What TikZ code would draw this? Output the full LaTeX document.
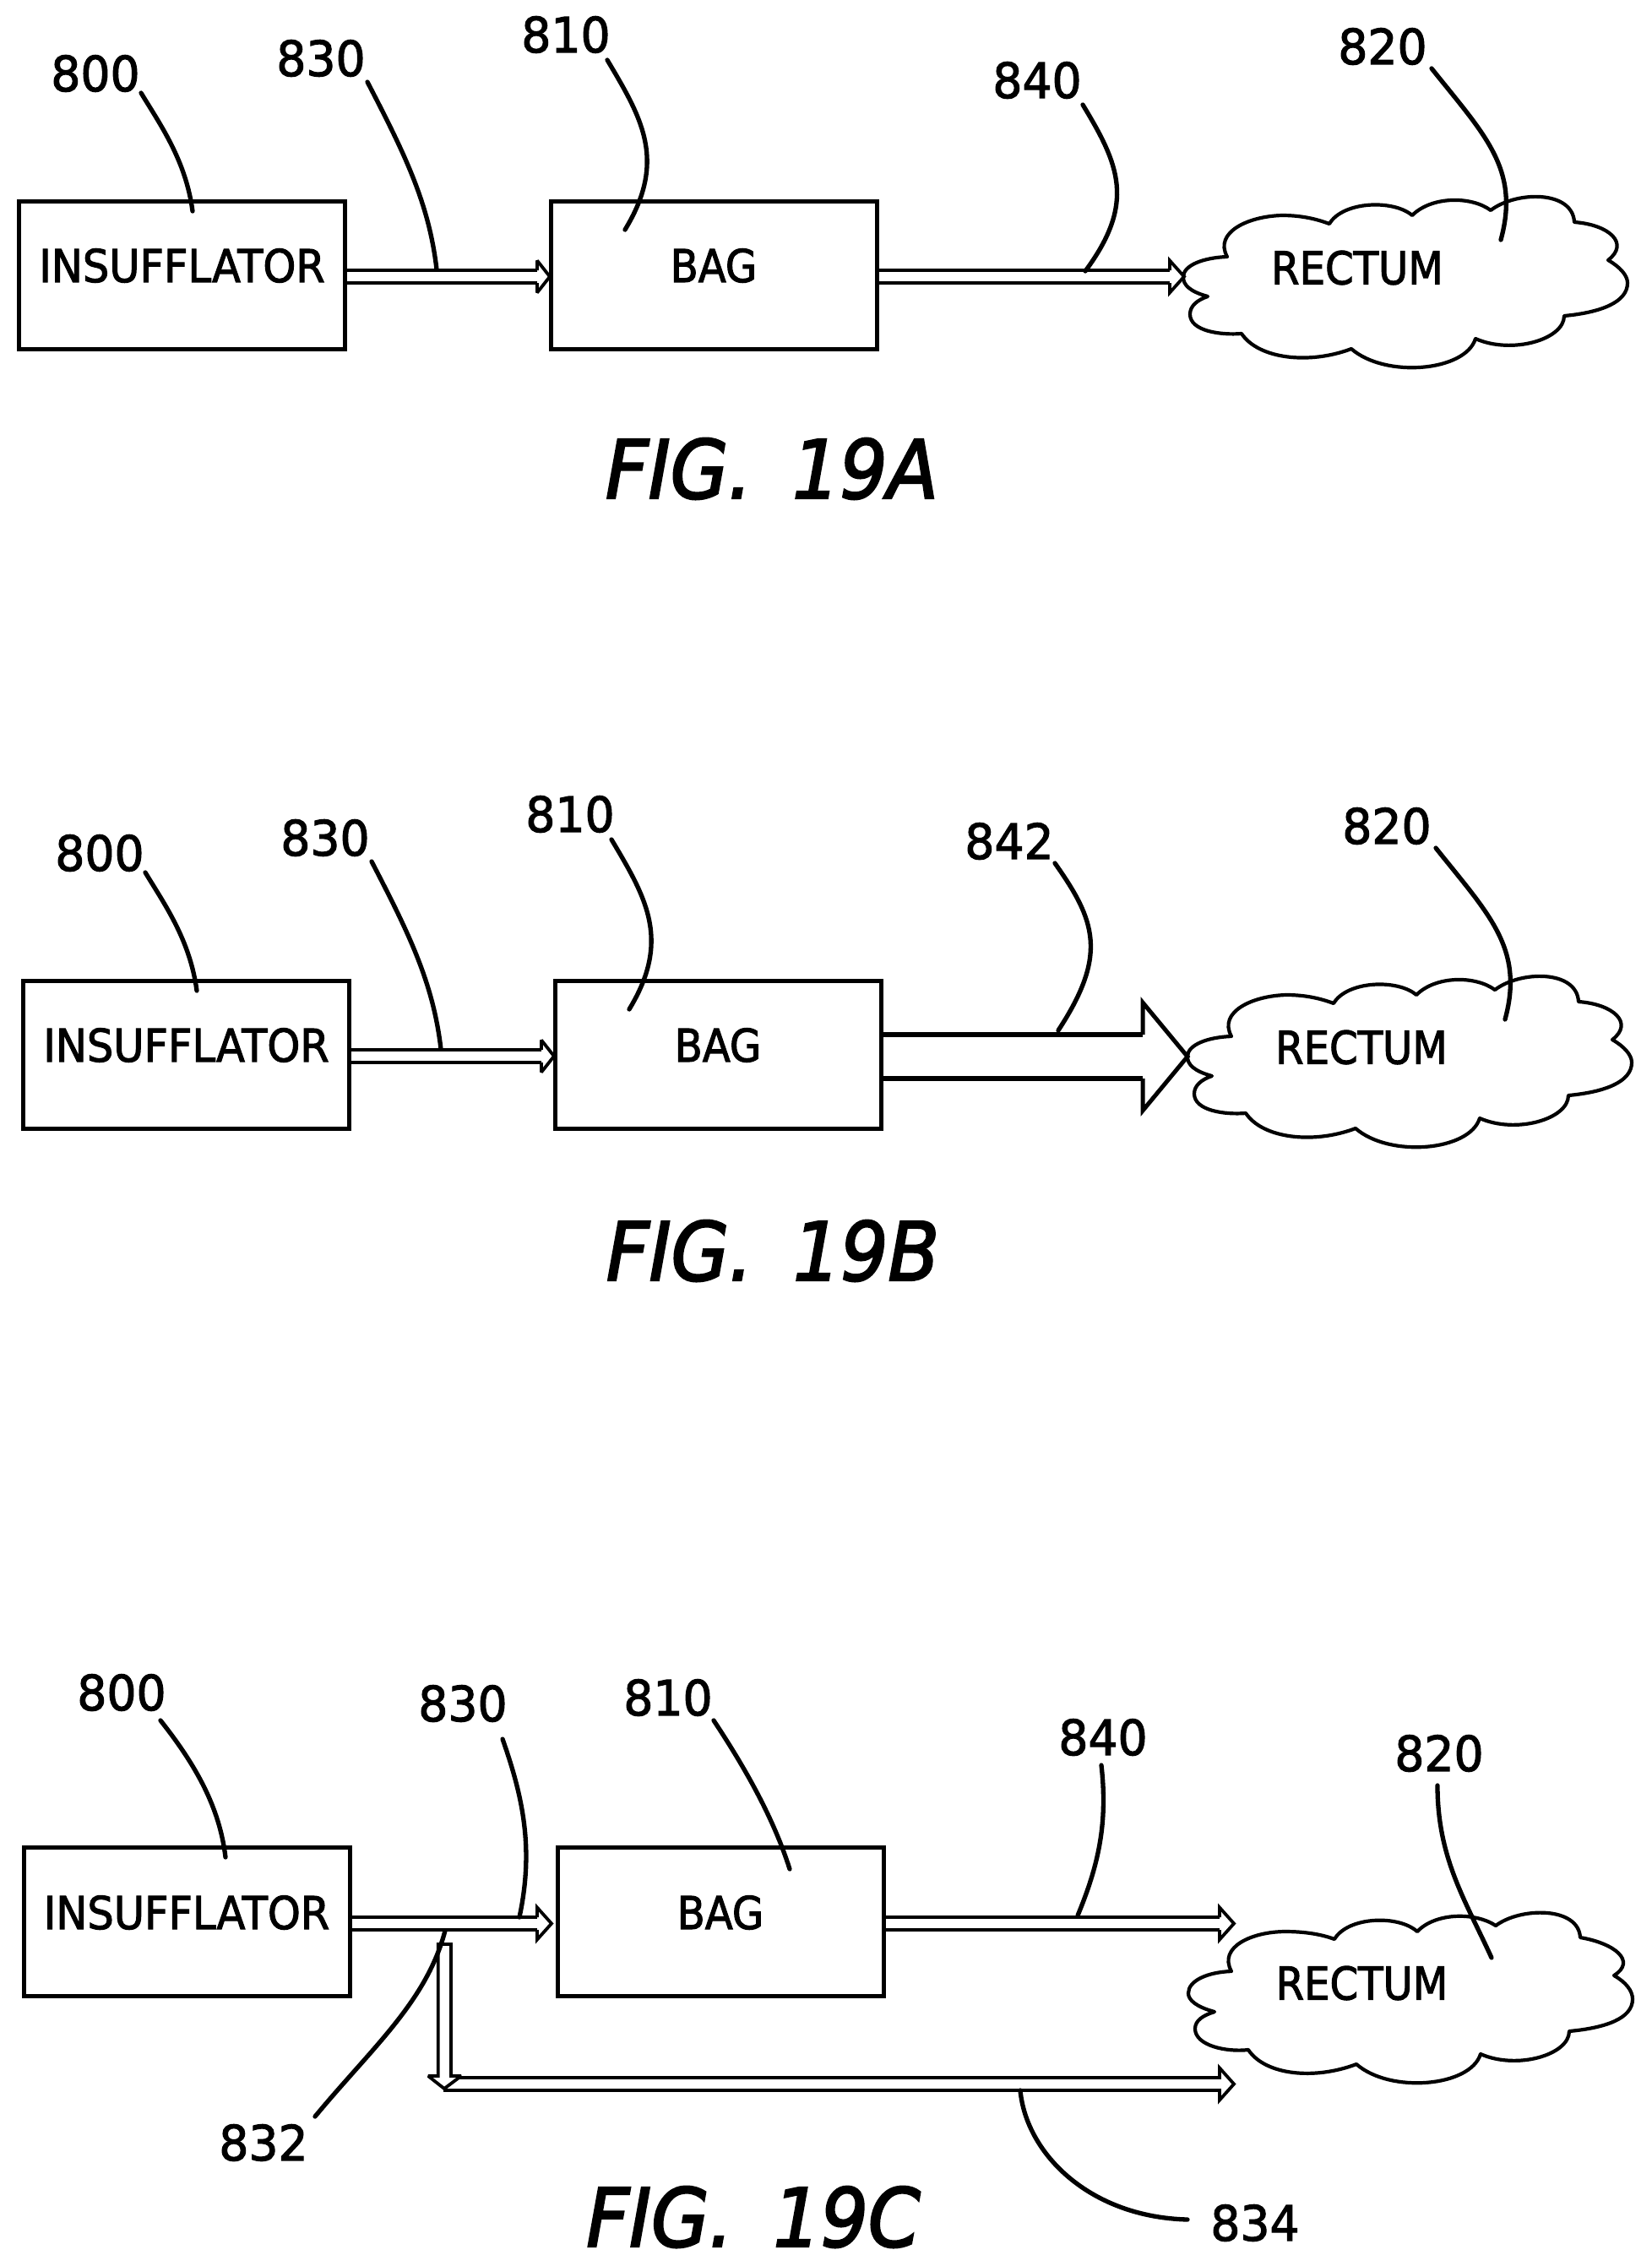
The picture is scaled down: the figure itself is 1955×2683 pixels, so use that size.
\documentclass[tikz,border=0pt]{standalone}
\usepackage{fontspec}
\setmainfont{DejaVu Sans}[FakeStretch=0.9,FakeBold=2]
\newfontfamily\insfont{DejaVu Sans}[FakeStretch=0.925,FakeBold=2]
\newfontfamily\numfont{DejaVu Sans}[FakeStretch=0.96,FakeBold=2]
\newfontfamily\figfont{DejaVu Sans Oblique}[FakeStretch=0.92,FakeBold=2.5]
\usetikzlibrary{calc}
\tikzset{
  boxnode/.style={draw=black,line width=5pt,minimum width=386pt,minimum height=175.5pt,inner sep=0pt,outer sep=0pt},
  textnode/.style={inner sep=0pt,outer sep=0pt,font=\fontsize{53.5pt}{56pt}\selectfont,text=black},
  instext/.style={inner sep=0pt,outer sep=0pt,font=\insfont\fontsize{53.5pt}{56pt}\selectfont,text=black},
  numlabel/.style={inner sep=0pt,outer sep=0pt,font=\numfont\fontsize{57.5pt}{60pt}\selectfont,text=black},
  figlabel/.style={inner sep=0pt,outer sep=0pt,font=\figfont\fontsize{96pt}{100pt}\selectfont,text=black},
  leader/.style={draw=black,line width=5.3pt,line cap=round},
  flow/.style={draw=black,line width=3.8pt,line join=miter,miter limit=3},
  bigflow/.style={draw=black,line width=6.5pt,line join=miter},
  cloudline/.style={draw=black,line width=4.2pt,line join=round},
}
% hollow arrow: #1 start, #2 tip, #3 half gap, #4 head length, #5 head half height, #6 style
\newcommand\hollowarrow[6]{%
  \draw[#6] ($(#1)+(0,-#3)$) -- ($(#2)+(-#4,-#3)$);
  \draw[#6] ($(#1)+(0,#3)$) -- ($(#2)+(-#4,#3)$);
  \draw[#6] ($(#2)+(-#4,-#3)$) -- ($(#2)+(-#4,-#5)$) -- (#2) -- ($(#2)+(-#4,#5)$) -- ($(#2)+(-#4,#3)$);
}
\newcommand\cloudAB{%
  (1453,304) .. controls (1437,275) and (1478,256) .. (1518,255)
  .. controls (1540,255) and (1558,259) .. (1574,265)
  .. controls (1590,238) and (1650,236) .. (1672,255)
  .. controls (1695,232) and (1742,232) .. (1765,249)
  .. controls (1795,226) and (1862,225) .. (1864,263)
  .. controls (1905,266) and (1930,288) .. (1904,308)
  .. controls (1918,316) and (1927,326) .. (1927,335)
  .. controls (1927,358) and (1895,370) .. (1852,374)
  .. controls (1852,402) and (1790,420) .. (1747,401)
  .. controls (1735,440) and (1640,448) .. (1600,413)
  .. controls (1550,432) and (1490,425) .. (1470,395)
  .. controls (1445,397) and (1409,392) .. (1409,372)
  .. controls (1409,362) and (1418,355) .. (1430,351)
  .. controls (1408,345) and (1401,337) .. (1401,328)
  .. controls (1401,314) and (1425,305) .. (1453,304) -- cycle}
\begin{document}
\begin{tikzpicture}[x=1pt,y=-1pt]
\useasboundingbox (0,0) rectangle (1955,2683);
\fill[white] (0,0) rectangle (1955,2683);

% ---------- FIG 19A
\node[boxnode] (insA) at (215.5,326) {};
\node[instext] (insAt) at (215.5,314.5) {INSUFFLATOR};
\node[boxnode] (bagA) at (845,326) {};
\node[textnode] (bagAt) at (845,314.5) {BAG};
\draw[cloudline] \cloudAB;
\node[textnode] (recA) at (1607,317) {RECTUM};
\node[numlabel] (n800A) at (113,87) {800};
\node[numlabel] (n830A) at (380,69) {830};
\node[numlabel] (n810A) at (670,41) {810};
\node[numlabel] (n840A) at (1228,95) {840};
\node[numlabel] (n820A) at (1637,55) {820};
\coordinate (a1s) at (408.5,327.5); \coordinate (a1e) at (651,327.5);
\coordinate (a2s) at (1038,327.5); \coordinate (a2e) at (1402,327.5);
\hollowarrow{a1s}{a1e}{7.5}{15}{19}{flow}
\hollowarrow{a2s}{a2e}{7.5}{17}{19}{flow}
\coordinate (l1s) at (167,110); \coordinate (l1e) at (228,250);
\coordinate (l2s) at (435,97); \coordinate (l2e) at (517,319);
\coordinate (l3s) at (719,71); \coordinate (l3e) at (740,272);
\coordinate (l4s) at (1282,124); \coordinate (l4e) at (1285,321);
\coordinate (l5s) at (1695,81); \coordinate (l5e) at (1777,284);
\draw[leader] (l1s) .. controls (190,148) and (220,190) .. (l1e);
\draw[leader] (l2s) .. controls (478,180) and (508,240) .. (l2e);
\draw[leader] (l3s) .. controls (760,140) and (790,190) .. (l3e);
\draw[leader] (l4s) .. controls (1325,195) and (1345,240) .. (l4e);
\draw[leader] (l5s) .. controls (1758,160) and (1800,200) .. (l5e);
\node[figlabel] (figA) at (914,555) {FIG.\hspace{0.5em}19A};

% ---------- FIG 19B
\begin{scope}[shift={(5,923)}]
\node[boxnode] (insB) at (215.5,326) {};
\node[instext] (insBt) at (215.5,314.5) {INSUFFLATOR};
\node[boxnode] (bagB) at (845,326) {};
\node[textnode] (bagBt) at (845,314.5) {BAG};
\draw[cloudline] \cloudAB;
\node[textnode] (recB) at (1607,317) {RECTUM};
\node[numlabel] (n800B) at (113,87) {800};
\node[numlabel] (n830B) at (380,69) {830};
\node[numlabel] (n810B) at (670,41) {810};
\node[numlabel] (n820B) at (1637,55) {820};
\coordinate (b1s) at (408.5,327.5); \coordinate (b1e) at (651,327.5);
\hollowarrow{b1s}{b1e}{7.5}{15}{19}{flow}
\coordinate (m1s) at (167,110); \coordinate (m1e) at (228,250);
\coordinate (m2s) at (435,97); \coordinate (m2e) at (517,319);
\coordinate (m3s) at (719,71); \coordinate (m3e) at (740,272);
\coordinate (m5s) at (1695,81); \coordinate (m5e) at (1777,284);
\draw[leader] (m1s) .. controls (190,148) and (220,190) .. (m1e);
\draw[leader] (m2s) .. controls (478,180) and (508,240) .. (m2e);
\draw[leader] (m3s) .. controls (760,140) and (790,190) .. (m3e);
\draw[leader] (m5s) .. controls (1758,160) and (1800,200) .. (m5e);
\end{scope}
\node[numlabel] (n842B) at (1195,996) {842};
\coordinate (b2s) at (1043,1251); \coordinate (b2e) at (1406,1251);
\draw[bigflow] ($(b2s)+(0,-26)$) -- ($(b2e)+(-53,-26)$);
\draw[bigflow] ($(b2s)+(0,26)$) -- ($(b2e)+(-53,26)$);
\draw[draw=black,line width=5pt,line join=miter] ($(b2e)+(-53,-26)$) -- ($(b2e)+(-53,-64)$) -- (b2e) -- ($(b2e)+(-53,64)$) -- ($(b2e)+(-53,26)$);
\coordinate (m4s) at (1249,1022); \coordinate (m4e) at (1253,1220);
\draw[leader] (m4s) .. controls (1297,1090) and (1312,1130) .. (m4e);
\node[figlabel] (figB) at (915,1481) {FIG.\hspace{0.5em}19B};

% ---------- FIG 19C
\node[boxnode,minimum height=176pt] (insC) at (221,2275.5) {};
\node[instext] (insCt) at (221,2264.5) {INSUFFLATOR};
\node[boxnode,minimum height=176pt] (bagC) at (853,2275.5) {};
\node[textnode] (bagCt) at (853,2264.5) {BAG};
\draw[cloudline]
  (1458,2334) .. controls (1442,2305) and (1483,2287) .. (1522,2287)
  .. controls (1544,2287) and (1564,2290) .. (1580,2296)
  .. controls (1596,2269) and (1656,2267) .. (1678,2287)
  .. controls (1700,2264) and (1747,2264) .. (1771,2280)
  .. controls (1800,2258) and (1869,2257) .. (1871,2294)
  .. controls (1912,2301) and (1938,2322) .. (1911,2339)
  .. controls (1925,2347) and (1933,2357) .. (1933,2367)
  .. controls (1933,2390) and (1901,2401) .. (1858,2405)
  .. controls (1858,2433) and (1796,2451) .. (1753,2432)
  .. controls (1741,2471) and (1646,2479) .. (1606,2444)
  .. controls (1556,2463) and (1498,2457) .. (1478,2427)
  .. controls (1452,2430) and (1415,2422) .. (1415,2402)
  .. controls (1415,2392) and (1425,2386) .. (1438,2382)
  .. controls (1416,2376) and (1407,2368) .. (1407,2360)
  .. controls (1407,2345) and (1430,2335) .. (1458,2334) -- cycle;
\node[textnode] (recC) at (1612.5,2348) {RECTUM};
\node[numlabel] (n800C) at (144,2004) {800};
\node[numlabel] (n830C) at (548,2017) {830};
\node[numlabel] (n810C) at (791,2010) {810};
\node[numlabel] (n832C) at (312,2537) {832};
\node[numlabel] (n840C) at (1306,2057) {840};
\node[numlabel] (n820C) at (1704,2076) {820};
\node[numlabel] (n834C) at (1486,2632) {834};
\coordinate (c1s) at (413.5,2277.5); \coordinate (c1e) at (653,2277.5);
\coordinate (c2s) at (1044,2277.5); \coordinate (c2e) at (1461,2277.5);
\coordinate (c3e) at (1461,2467.5);
\hollowarrow{c1s}{c1e}{7.5}{17}{19}{flow}
\hollowarrow{c2s}{c2e}{7.5}{17}{19}{flow}
% branch
\coordinate (d1) at (518.7,2302); \coordinate (d2) at (534,2302);
\coordinate (dt) at (526,2473);
\draw[flow] (d1) -- (d1 |- 0,2458) -- (507,2458) -- (dt) -- (546,2458) -- (d2 |- 0,2458) -- (d2) -- cycle;
\draw[flow] (541,2460) -- ($(c3e)+(-17,-7.5)$) -- ($(c3e)+(-17,-19)$) -- (c3e) -- ($(c3e)+(-17,19)$) -- ($(c3e)+(-17,7.5)$) -- (525,2475);
\coordinate (e1s) at (190,2037); \coordinate (e1e) at (267,2199);
\coordinate (e2s) at (595,2059); \coordinate (e2e) at (615,2270);
\coordinate (e3s) at (845,2037); \coordinate (e3e) at (935,2213);
\coordinate (e4s) at (527,2286); \coordinate (e4e) at (373,2506);
\coordinate (e5s) at (1304,2090); \coordinate (e5e) at (1276,2268);
\coordinate (e6s) at (1702,2114); \coordinate (e6e) at (1766,2318);
\coordinate (e7s) at (1208,2475); \coordinate (e7e) at (1406,2628);
\draw[leader] (e1s) .. controls (232,2090) and (260,2140) .. (e1e);
\draw[leader] (e2s) .. controls (620,2130) and (632,2190) .. (e2e);
\draw[leader] (e3s) .. controls (880,2090) and (915,2150) .. (e3e);
\draw[leader] (e4s) .. controls (505,2370) and (440,2425) .. (e4e);
\draw[leader] (e5s) .. controls (1312,2160) and (1300,2210) .. (e5e);
\draw[leader] (e6s) .. controls (1702,2200) and (1735,2250) .. (e6e);
\draw[leader] (e7s) .. controls (1215,2550) and (1290,2625) .. (e7e);
\node[figlabel] (figC) at (892,2625) {FIG.\hspace{0.5em}19C};
\end{tikzpicture}
\end{document}
